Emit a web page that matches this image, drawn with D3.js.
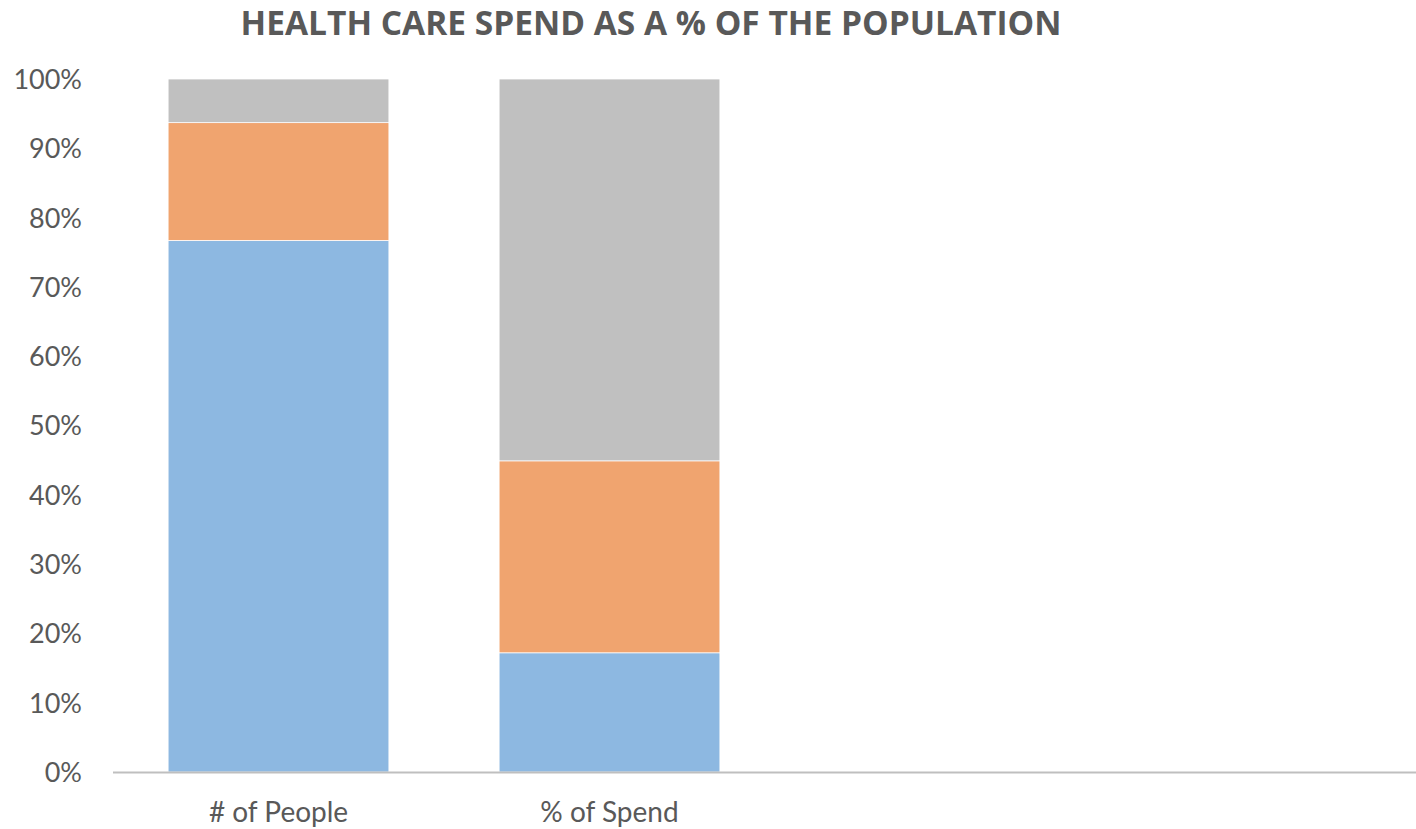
<!DOCTYPE html>
<html>
<head>
<meta charset="utf-8">
<script src="https://cdn.jsdelivr.net/npm/d3@7/dist/d3.min.js"></script>
<style>
  html, body { margin: 0; padding: 0; background: #fff; }
  svg text { font-family: Lato, "Open Sans", sans-serif; }
</style>
</head>
<body>
<div id="chart"></div>
<script>
'use strict';

var categories = ['# of People', '% of Spend', '', ' '];
var series = ['Low', 'Mid', 'High'];
var lowValues = [0.767, 0.172];
var midValues = [0.170, 0.277];
var highValues = [0.063, 0.551];
var colors = ['#8DB8E1', '#F0A46F', '#C0C0C0'];
var yTicks = [0, 0.1, 0.2, 0.3, 0.4, 0.5, 0.6, 0.7, 0.8, 0.9, 1.0];

var width = 1416;
var height = 829;
var margin = { left: 113, top: 79, bottom: 57 };

var rows = categories.slice(0, 2).map(function (c, i) {
    return { cat: c, Low: lowValues[i], Mid: midValues[i], High: highValues[i] };
});

var stacked = d3.stack().keys(series)(rows);

var x = d3.scaleBand()
    .domain(categories)
    .range([margin.left, margin.left + 4 * 331])
    .paddingInner(0.333)
    .paddingOuter(0.1665);

var y = d3.scaleLinear()
    .domain([0, 1])
    .range([height - margin.bottom, margin.top]);

var svg = d3.select('#chart')
    .append('svg')
        .attr('width', width)
        .attr('height', height);

svg.append('text')
    .attr('x', 651)
    .attr('y', 35)
    .attr('text-anchor', 'middle')
    .style('font-family', '"Open Sans", sans-serif')
    .style('font-weight', 'bold')
    .style('font-size', '33.5px')
    .style('fill', '#595959')
    .text('HEALTH CARE SPEND AS A % OF THE POPULATION');

svg.append('g')
    .selectAll('g')
    .data(stacked)
    .enter()
    .append('g')
        .style('fill', function (d, i) { return colors[i]; })
    .selectAll('rect')
    .data(function (d) { return d; })
    .enter()
    .append('rect')
        .attr('x', function (d) { return x(d.data.cat); })
        .attr('y', function (d) { return y(d[1]); })
        .attr('width', x.bandwidth())
        .attr('height', function (d) { return y(d[0]) - y(d[1]); })
        .style('stroke', '#ffffff')
        .style('stroke-width', 0.75);

var yAxis = svg.append('g')
    .attr('transform', 'translate(' + margin.left + ',0)')
    .call(d3.axisLeft(y).tickValues(yTicks).tickFormat(d3.format('.0%')).tickSize(0).tickPadding(31));
yAxis.select('.domain').remove();
yAxis.selectAll('text')
    .style('font-size', '27px')
    .style('fill', '#595959')
    .attr('dy', '0.35em');

var xAxis = svg.append('g')
    .attr('transform', 'translate(0,' + (height - margin.bottom) + ')')
    .call(d3.axisBottom(x).tickSize(0).tickPadding(30));
xAxis.select('.domain')
    .attr('d', 'M' + margin.left + ',0.5H' + width)
    .style('stroke', '#BFBFBF')
    .style('stroke-width', 2);
xAxis.selectAll('text')
    .style('font-size', '28px')
    .style('fill', '#595959');
</script>
</body>
</html>
